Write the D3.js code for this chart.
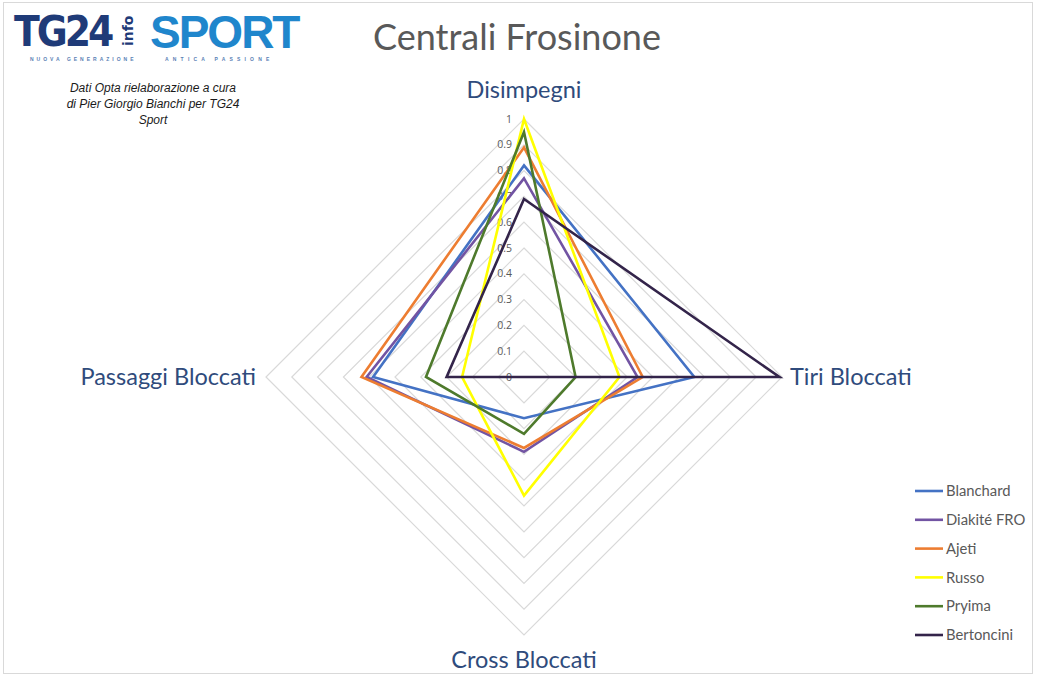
<!DOCTYPE html>
<html>
<head>
<meta charset="utf-8">
<script src="https://cdn.jsdelivr.net/npm/d3@7"></script>
<style>
  body { margin: 0; background: #fff; }
  svg { display: block; }
</style>
</head>
<body>
<div id="chart"></div>
<script>
// axes of the radar, clockwise from the top
var axes = ["Disimpegni", "Tiri Bloccati", "Cross Bloccati", "Passaggi Bloccati"];
var players = ["Blanchard", "Diakité FRO", "Ajeti", "Russo", "Pryima", "Bertoncini"];
var colors = ["#4472C4", "#7254A3", "#ED7D31", "#FFFF00", "#4E7A2C", "#33244A"];

// values per player, same order as axes
var blanchard  = [0.82, 0.66, 0.16, 0.585];
var diakite    = [0.77, 0.44, 0.29, 0.61];
var ajeti      = [0.89, 0.46, 0.275, 0.63];
var russo      = [1.00, 0.37, 0.46, 0.24];
var pryima     = [0.95, 0.20, 0.22, 0.38];
var bertoncini = [0.69, 0.99, 0.00, 0.30];
var series = [blanchard, diakite, ajeti, russo, pryima, bertoncini];

var ticks = [0, 0.1, 0.2, 0.3, 0.4, 0.5, 0.6, 0.7, 0.8, 0.9, 1];

var W = 1039, H = 681;
var cx = 524, cy = 377;

var svg = d3.select("#chart").append("svg")
    .attr("width", W)
    .attr("height", H);

// chart border
svg.append("rect")
    .attr("x", 3.5).attr("y", 2.5)
    .attr("width", 1029).attr("height", 671)
    .attr("fill", "#fff")
    .attr("stroke", "#D9D9D9")
    .attr("stroke-width", 1);

var r = d3.scaleLinear().domain([0, 1]).range([0, 258]);
var angle = d3.scaleLinear().domain([0, axes.length]).range([0, 2 * Math.PI]);

var g = svg.append("g").attr("transform", "translate(" + cx + "," + cy + ")");

var radial = d3.lineRadial()
    .angle(function(d, i) { return angle(i); })
    .radius(function(d) { return r(d); })
    .curve(d3.curveLinearClosed);

// grid rings
g.selectAll(".ring")
    .data(ticks.slice(1))
    .enter().append("path")
    .attr("class", "ring")
    .attr("fill", "none")
    .attr("stroke", "#D9D9D9")
    .attr("stroke-width", 1.2)
    .attr("d", function(t) { return radial(axes.map(function() { return t; })); });

// tick labels along the top axis
g.selectAll(".tick-label")
    .data(ticks)
    .enter().append("text")
    .attr("class", "tick-label")
    .attr("x", -12)
    .attr("y", function(t) { return -r(t); })
    .attr("dy", "0.35em")
    .attr("text-anchor", "end")
    .style("font-family", "'Open Sans', sans-serif")
    .style("font-size", "10.5px")
    .style("fill", "#595959")
    .text(function(t) { return t; });

// series
g.selectAll(".series")
    .data(series)
    .enter().append("path")
    .attr("class", "series")
    .attr("fill", "none")
    .attr("stroke", function(d, i) { return colors[i]; })
    .attr("stroke-width", 2.6)
    .attr("stroke-linejoin", "miter")
    .attr("d", radial);

// axis labels
var labelPos = [
  {x: 0, y: -287, anchor: "middle"},
  {x: 266, y: 0, anchor: "start"},
  {x: 0, y: 283, anchor: "middle"},
  {x: -268, y: 0, anchor: "end"}
];
g.selectAll(".axis-label")
    .data(axes)
    .enter().append("text")
    .attr("class", "axis-label")
    .attr("x", function(d, i) { return labelPos[i].x; })
    .attr("y", function(d, i) { return labelPos[i].y; })
    .attr("dy", "0.35em")
    .attr("text-anchor", function(d, i) { return labelPos[i].anchor; })
    .style("font-family", "Lato, 'Open Sans', sans-serif")
    .style("font-size", "23.5px")
    .style("fill", "#2F4B7C")
    .text(function(d) { return d; });

// title
svg.append("text")
    .attr("x", 517).attr("y", 37)
    .attr("dy", "0.35em")
    .attr("text-anchor", "middle")
    .style("font-family", "Lato, 'Open Sans', sans-serif")
    .style("font-size", "36px")
    .style("fill", "#595959")
    .text("Centrali Frosinone");

// legend
var legend = svg.append("g")
    .attr("transform", "translate(915,491)");
var item = legend.selectAll(".legend")
    .data(players)
    .enter().append("g")
    .attr("class", "legend")
    .attr("transform", function(d, i) { return "translate(0," + i * 28.8 + ")"; });
item.append("line")
    .attr("x1", 0).attr("x2", 28)
    .attr("stroke", function(d, i) { return colors[i]; })
    .attr("stroke-width", 2.6);
item.append("text")
    .attr("x", 31)
    .attr("dy", "0.35em")
    .style("font-family", "Lato, 'Open Sans', sans-serif")
    .style("font-size", "14.8px")
    .style("fill", "#595959")
    .text(function(d) { return d; });

// logo as text
var logo = svg.append("g");
logo.append("text")
    .attr("x", 14).attr("y", 46)
    .style("font-family", "'DejaVu Sans Condensed', 'Liberation Sans Narrow', sans-serif")
    .style("font-weight", "bold")
    .style("font-size", "42px")
    .style("letter-spacing", "-3px")
    .style("fill", "#1F3B78")
    .text("TG24");
logo.append("text")
    .attr("transform", "translate(133,46) rotate(-90)")
    .style("font-family", "'DejaVu Sans', sans-serif")
    .style("font-weight", "bold")
    .style("font-size", "14px")
    .style("fill", "#1F3B78")
    .text("info");
logo.append("text")
    .attr("x", 150).attr("y", 48)
    .style("font-family", "'Liberation Sans', Arial, sans-serif")
    .style("font-weight", "bold")
    .style("font-size", "46px")
    .style("letter-spacing", "-2px")
    .style("fill", "#1F86CC")
    .text("SPORT");
logo.append("text")
    .attr("x", 30).attr("y", 61)
    .style("font-family", "'Liberation Sans', Arial, sans-serif")
    .style("font-weight", "bold")
    .style("font-size", "5px")
    .style("letter-spacing", "3px")
    .style("fill", "#5A7FB5")
    .text("NUOVA GENERAZIONE");
logo.append("text")
    .attr("x", 165).attr("y", 61)
    .style("font-family", "'Liberation Sans', Arial, sans-serif")
    .style("font-weight", "bold")
    .style("font-size", "5px")
    .style("letter-spacing", "4.2px")
    .style("fill", "#5A7FB5")
    .text("ANTICA PASSIONE");

// credit note
var note = ["Dati Opta rielaborazione a cura", "di Pier Giorgio Bianchi per TG24", "Sport"];
svg.selectAll(".note")
    .data(note)
    .enter().append("text")
    .attr("class", "note")
    .attr("x", 153)
    .attr("y", function(d, i) { return 92 + i * 16; })
    .attr("text-anchor", "middle")
    .style("font-family", "'Liberation Sans', Arial, sans-serif")
    .style("font-style", "italic")
    .style("font-size", "12px")
    .style("fill", "#1a1a1a")
    .text(function(d) { return d; });
</script>
</body>
</html>
